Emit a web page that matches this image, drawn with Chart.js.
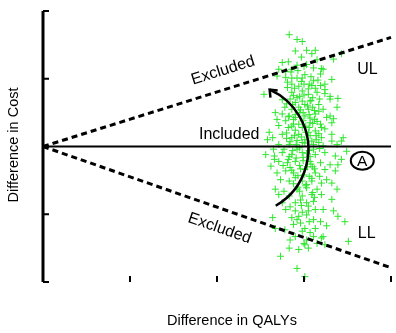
<!DOCTYPE html>
<html>
<head>
<meta charset="utf-8">
<script src="https://cdn.jsdelivr.net/npm/chart.js@4"></script>
<style>
html, body { margin: 0; padding: 0; background: #fff; }
#wrap { width: 396px; height: 333px; }
</style>
</head>
<body>
<div id="wrap"><canvas id="plane"></canvas></div>
<script>
// simulated incremental QALYs / costs
var qalyDiff = [
  2.83,2.92,2.98,2.90,3.03,3.13,2.97,3.09,3.43,3.34,2.75,2.82,2.92,3.11,3.20,2.79,2.69,2.79,2.86,2.92,2.98,3.01,3.19,3.11,3.00,3.09,3.19,3.24,2.86,2.94,2.71,3.22,
  2.54,2.86,2.98,3.05,3.15,3.24,3.30,3.07,2.98,2.90,3.17,2.94,3.05,3.22,2.67,2.75,2.83,2.90,3.01,3.13,3.30,2.79,2.88,3.07,3.19,3.32,2.71,2.98,3.13,3.24,2.64,2.75,2.86,2.94,3.07,3.20,3.32,3.43,2.83,2.98,3.11,3.22,2.71,3.30,3.39,3.24,3.34,3.32,3.45,2.60,
  2.56,2.66,2.75,2.86,2.98,3.13,3.24,3.36,3.49,2.71,2.81,2.90,3.07,3.19,3.30,3.39,2.62,2.69,2.79,2.88,3.01,3.13,3.24,3.36,2.73,2.83,2.98,3.09,3.20,3.32,2.67,2.77,2.92,3.03,3.15,2.71,2.83,2.98,3.09,3.20,2.75,2.90,3.03,3.11,2.79,2.90,3.05,3.22,3.34,2.66,
  2.64,2.86,2.94,3.03,3.11,3.19,3.39,3.47,2.67,2.96,3.01,3.13,3.22,3.11,2.90,2.84,3.00,3.03,3.51,2.83,2.73,2.92,3.01,2.92,3.01,3.20,3.24,3.05,
  2.88,2.95,3.10,2.80,3.01,3.10,2.86,3.17,2.95,3.06,2.88,2.99,3.12,2.82,3.06,2.90,3.02,3.17,2.80,3.01,
  3.14,2.91,3.05,2.77,2.92,3.06,3.18,2.83,2.99,3.07,2.76,2.95,3.10,2.84,2.93,3.06,3.18,2.88,3.03,2.95,
  3.12,2.84,2.97,2.98,3.13,3.06,2.88,2.98,3.07,3.15,2.94,2.78,3.26,3.32,3.38,3.26,3.43,3.38,3.26,3.38,
  2.75,2.69,2.65,2.58,3.06,2.81,3.32,3.03,3.15,2.86,
  2.85,2.93,3.00,3.08,3.16,2.81,2.89,2.97,3.05,3.13,2.84,2.92,3.00,3.08,3.18,2.78,2.87,2.96,3.04,3.12,
  2.82,2.90,2.99,3.07,3.15,2.86,2.94,3.02,3.10,3.20,2.80,2.89,2.97,3.05,3.14,2.84,2.92,3.01,3.09,3.17,
  2.87,2.95,3.03,3.11,2.82,2.91,2.99,3.08,2.86,2.96,3.04,3.12,2.90,3.00,3.09,2.93,3.02,3.10,2.96,3.05
];
var costDiff = [
  1.65,1.58,1.55,1.41,1.42,1.42,1.32,1.37,1.37,1.29,1.24,1.25,1.20,1.16,1.15,1.11,1.04,1.02,1.01,1.01,1.01,1.06,1.07,0.97,0.92,0.90,0.90,0.92,0.92,0.89,1.14,1.14,
  0.77,0.80,0.82,0.77,0.80,0.78,0.70,0.67,0.67,0.65,0.62,0.58,0.55,0.55,0.50,0.48,0.45,0.43,0.45,0.48,0.45,0.38,0.33,0.35,0.33,0.35,0.31,0.28,0.23,0.26,0.13,0.18,0.13,0.18,0.16,0.13,0.08,0.08,0.03,0.06,0.03,0.01,0.03,0.74,0.71,0.84,0.41,0.18,0.13,0.21,
  -0.12,-0.14,-0.09,-0.12,-0.09,-0.12,-0.09,-0.14,-0.07,-0.22,-0.24,-0.22,-0.22,-0.24,-0.27,-0.27,-0.29,-0.39,-0.36,-0.39,-0.34,-0.39,-0.34,-0.36,-0.49,-0.51,-0.51,-0.51,-0.54,-0.54,-0.63,-0.66,-0.63,-0.61,-0.63,-0.71,-0.73,-0.73,-0.71,-0.71,-0.83,-0.83,-0.83,-0.81,-0.93,-0.95,-0.95,-0.93,-0.95,-0.19,
  -1.05,-1.05,-1.03,-1.01,-1.08,-1.11,-1.03,-1.11,-1.21,-1.13,-1.21,-1.21,-1.33,-1.33,-1.33,-1.38,-1.43,-1.38,-1.40,-1.50,-1.62,-1.80,-1.92,-1.08,-1.45,-1.35,-1.45,-1.50,
  0.75,0.74,0.72,0.63,0.62,0.58,0.55,0.52,0.50,0.47,0.40,0.38,0.40,0.28,0.28,0.24,0.21,0.19,0.12,0.10,
  0.10,0.03,0.00,-0.04,-0.04,-0.06,-0.03,-0.15,-0.16,-0.15,-0.28,-0.28,-0.30,-0.31,-0.43,-0.44,-0.44,-0.55,-0.56,-0.66,
  -0.75,-0.89,-0.87,-0.97,-0.93,-1.11,-1.15,-1.25,-1.27,-1.43,-1.52,-1.23,-1.17,-0.78,-0.63,-0.49,-0.19,0.03,0.43,0.58,
  0.69,0.40,-0.04,0.10,0.92,0.87,0.99,1.21,1.28,1.14,
  1.10,1.12,1.18,1.03,0.98,0.95,0.86,0.96,0.85,0.86,0.70,0.72,0.76,0.68,0.70,0.58,0.62,0.54,0.60,0.53,
  0.44,0.47,0.50,0.42,0.37,0.30,0.33,0.30,0.34,0.28,0.20,0.16,0.14,0.21,0.16,0.07,0.09,0.05,0.08,0.06,
  -0.06,-0.02,-0.10,-0.04,-0.19,-0.17,-0.21,-0.26,-0.35,-0.33,-0.30,-0.33,-0.46,-0.42,-0.47,-0.60,-0.58,-0.68,-0.79,-0.88
];

// threshold lines from the origin
var lineX = [0, 4];
var upperY = [0, 1.61];
var lowerY = [0, -1.79];
var includedY = [0, 0];

var xTicks = [0, 1, 2, 3, 4];
var yTicks = [-2, -1, 0, 1, 2];

function pairs(xs, ys) {
  return xs.map(function (x, i) { return { x: x, y: ys[i] }; });
}

var FONT = '"Liberation Sans", Arial, sans-serif';

var planeDeco = {
  id: 'planeDeco',
  afterDatasetsDraw: function (chart) {
    var ctx = chart.ctx, xs = chart.scales.x, ys = chart.scales.y;
    var X = function (v) { return xs.getPixelForValue(v); };
    var Y = function (v) { return ys.getPixelForValue(v); };
    ctx.save();
    ctx.strokeStyle = '#000';
    ctx.fillStyle = '#000';

    // y axis with inward ticks
    ctx.lineWidth = 3;
    ctx.beginPath();
    ctx.moveTo(X(0), Y(2));
    ctx.lineTo(X(0), Y(-2));
    ctx.stroke();
    ctx.lineWidth = 2;
    yTicks.forEach(function (v) {
      ctx.beginPath();
      ctx.moveTo(X(0), Y(v));
      ctx.lineTo(X(0) + 6, Y(v));
      ctx.stroke();
    });
    xTicks.slice(1).forEach(function (v) {
      ctx.beginPath();
      ctx.moveTo(X(v), Y(-2));
      ctx.lineTo(X(v), Y(-2) - 6);
      ctx.stroke();
    });

    // curved arrow
    var cx = X(2.30), cy = Y(-0.04), r = X(0.75) - X(0);
    var a0 = 60 * Math.PI / 180, a1 = -66 * Math.PI / 180;
    ctx.lineWidth = 2.5;
    ctx.beginPath();
    ctx.arc(cx, cy, r, a0, a1, true);
    ctx.stroke();
    var tx = cx + r * Math.cos(a1), ty = cy + r * Math.sin(a1);
    ctx.beginPath();
    ctx.moveTo(tx + 8, ty + 0.8);
    ctx.lineTo(tx, ty);
    ctx.lineTo(tx + 0.8, ty + 8);
    ctx.stroke();

    // circled A
    var ex = X(3.67), ey = Y(-0.21);
    ctx.lineWidth = 2;
    ctx.beginPath();
    ctx.ellipse(ex, ey, 11.5, 9, 0, 0, Math.PI * 2);
    ctx.stroke();

    ctx.textAlign = 'center';
    ctx.textBaseline = 'middle';
    ctx.font = '15.5px ' + FONT;
    ctx.fillText('A', ex, ey + 0.5);

    ctx.font = '16px ' + FONT;
    ctx.fillText('Included', X(2.14), Y(0.18));
    ctx.fillText('UL', X(3.73), Y(1.14));
    ctx.fillText('LL', X(3.72), Y(-1.28));

    var upAng = Math.atan2(Y(upperY[1]) - Y(upperY[0]), X(lineX[1]) - X(lineX[0]));
    var loAng = Math.atan2(Y(lowerY[1]) - Y(lowerY[0]), X(lineX[1]) - X(lineX[0]));
    ctx.save();
    ctx.translate(X(2.07), Y(1.12));
    ctx.rotate(upAng);
    ctx.fillText('Excluded', 0, 0);
    ctx.restore();
    ctx.save();
    ctx.translate(X(2.03), Y(-1.21));
    ctx.rotate(loAng);
    ctx.fillText('Excluded', 0, 0);
    ctx.restore();

    // axis titles
    ctx.font = '14.5px ' + FONT;
    ctx.fillText('Difference in QALYs', 232, 321);
    ctx.save();
    ctx.translate(13.5, 145);
    ctx.rotate(-Math.PI / 2);
    ctx.fillText('Difference in Cost', 0, 0);
    ctx.restore();

    ctx.restore();
  }
};

var ctx = document.getElementById('plane').getContext('2d');
var plane = new Chart(ctx, {
  type: 'scatter',
  data: {
    datasets: [{
      label: 'Upper limit',
      data: pairs(lineX, upperY),
      showLine: true,
      borderColor: '#000',
      borderWidth: 3,
      borderDash: [6, 4],
      pointRadius: 0,
      clip: false,
      order: 1
    }, {
      label: 'Lower limit',
      data: pairs(lineX, lowerY),
      showLine: true,
      borderColor: '#000',
      borderWidth: 3,
      borderDash: [6, 4],
      pointRadius: 0,
      clip: false,
      order: 1
    }, {
      label: 'Included',
      data: pairs(lineX, includedY),
      showLine: true,
      borderColor: '#000',
      borderWidth: 2,
      pointRadius: 0,
      clip: false,
      order: 1
    }, {
      label: 'Simulations',
      data: pairs(qalyDiff, costDiff),
      pointStyle: 'cross',
      pointRadius: 3.5,
      borderWidth: 1,
      borderColor: '#2ee62e',
      backgroundColor: '#2ee62e',
      clip: false,
      order: 2
    }]
  },
  options: {
    maintainAspectRatio: false,
    responsive: true,
    animation: false,
    events: [],
    layout: { padding: { left: 43, right: 1, top: 11, bottom: 51 } },
    scales: {
      x: { type: 'linear', min: 0, max: 4, display: false },
      y: { type: 'linear', min: -2, max: 2, display: false }
    },
    plugins: {
      legend: { display: false },
      tooltip: { enabled: false }
    }
  },
  plugins: [planeDeco]
});
</script>
</body>
</html>
